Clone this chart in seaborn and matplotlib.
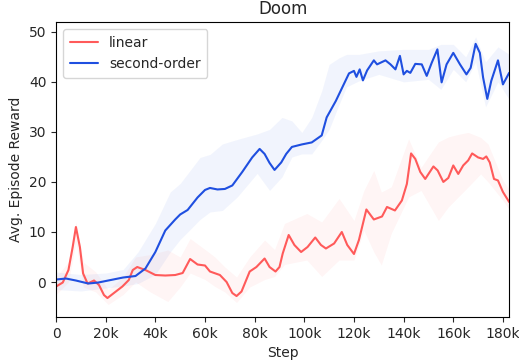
"""Doom: average episode reward vs step, linear vs second-order."""
import matplotlib
matplotlib.use("Agg")
import matplotlib.pyplot as plt
from matplotlib.ticker import FuncFormatter
import pandas as pd
import seaborn as sns

# mean curves, step in thousands
LIN_STEP = [0, 2.7, 5, 6.7, 8, 9.6, 10.9, 12.7, 15.3, 17.3, 19.3, 20.7, 23.3, 26.7,
            29.3, 30.9, 32.7, 36, 40, 44, 48, 51, 54, 57, 60, 62, 66, 68.7, 71,
            72.7, 74.7, 78, 80.7, 84, 86, 88.4, 90, 91.3, 93.7, 96, 98.7, 101.3,
            104.4, 106.7, 108.7, 112, 115.1, 117.3, 120, 122, 125, 128, 131.3,
            133.3, 136.5, 139.3, 141.3, 143, 144.7, 146.7, 148.7, 152, 153.7, 156,
            158, 160, 162, 164, 166, 167.6, 170, 172, 173.3, 174.7, 176.4, 178,
            180, 182.5]
LIN_MEAN = [-0.9, -0.1, 2.4, 7.0, 11.0, 7.0, 1.7, -0.3, 0.3, -0.6, -2.6, -3.2, -2.2,
            -0.9, 0.4, 2.4, 3.0, 2.4, 1.4, 1.3, 1.4, 1.8, 4.6, 3.5, 3.3, 2.1, 1.4,
            0.0, -2.2, -2.8, -1.9, 2.1, 3.0, 4.7, 3.0, 2.1, 3.0, 5.7, 9.4, 7.4, 6.0,
            7.0, 8.9, 7.4, 6.7, 7.7, 10.0, 7.4, 5.6, 8.4, 14.5, 12.5, 13.1, 15.0,
            14.3, 16.3, 19.6, 25.7, 24.6, 22.0, 20.6, 23.1, 22.3, 20.0, 20.8, 23.3,
            21.6, 23.3, 24.3, 25.7, 24.9, 24.6, 25.1, 23.9, 20.6, 20.3, 18.0, 16.0]

SO_STEP = [0, 4, 8, 13, 17, 20, 24, 27, 32, 36, 40, 44, 48, 50, 53, 57, 60, 62, 65,
           68, 71, 75, 79, 82, 84, 86, 88, 90.7, 92.7, 95, 99, 103, 107, 109, 112.7,
           115.3, 118, 120, 121, 122.3, 123.6, 125.3, 128, 129.3, 132.7, 134.7,
           136.7, 138.5, 140, 141.3, 142.7, 144.7, 147.3, 149.3, 151.3, 153.6,
           155.3, 157.3, 160, 162.7, 165.3, 167, 169, 170.7, 172, 173.7, 175.3,
           178, 180, 182.5]
SO_MEAN = [0.5, 0.7, 0.3, -0.3, -0.1, 0.2, 0.6, 0.9, 1.2, 2.7, 6.0, 10.3, 12.5, 13.5,
           14.4, 16.9, 18.4, 18.8, 18.5, 18.6, 19.3, 22.0, 24.9, 26.6, 25.6, 23.8,
           22.4, 23.9, 25.6, 27.0, 27.5, 27.9, 29.3, 32.9, 36.2, 38.9, 41.7, 42.2,
           41.0, 42.5, 40.3, 42.3, 44.3, 43.5, 44.3, 43.5, 42.5, 45.2, 41.5, 42.2,
           41.8, 43.6, 43.5, 41.2, 43.8, 46.5, 39.9, 43.5, 45.8, 43.5, 41.5, 42.8,
           47.6, 45.8, 40.9, 36.6, 40.2, 44.3, 39.5, 41.8]

# shaded spread around each curve
LIN_BAND_STEP = [0, 5, 8, 11, 16, 21, 27, 32, 38, 45, 50, 54, 60, 64, 68, 72.7, 78,
                 84, 88, 92, 101, 107, 114, 120, 124, 128, 131, 135, 142, 147, 154,
                 158, 162, 166, 171, 174, 180, 182.5]
LIN_LO = [-2.5, 0.0, 8.0, -1.0, -2.0, -4.5, -2.5, 0.0, -2.0, -3.9, -1.0, 1.8, 0.5,
          -0.9, -2.0, -4.1, -1.0, 0.5, 1.1, 3.5, 4.4, 1.1, 4.4, 4.4, 10.3, 6.0, 3.4,
          9.7, 17.0, 18.3, 12.3, 15.0, 17.0, 19.0, 21.6, 20.0, 16.3, 14.5]
LIN_HI = [1.0, 4.0, 12.0, 4.0, 2.0, -1.5, 1.0, 5.0, 5.5, 6.4, 5.0, 8.7, 6.5, 5.0,
          3.0, 1.0, 5.0, 8.4, 6.5, 11.7, 13.7, 12.0, 16.7, 12.3, 18.3, 22.3, 18.0,
          19.0, 28.6, 22.9, 28.0, 29.0, 29.5, 29.9, 28.9, 27.6, 20.3, 18.5]

SO_BAND_STEP = [0, 10, 20, 27, 33, 40, 46, 50, 58, 62, 67, 73, 81, 86, 91, 95, 99,
                103, 107, 110, 114, 117, 122, 130, 140, 150, 155, 160, 165, 169, 173,
                178, 182.5]
SO_LO = [-1.5, -1.8, -1.2, -0.8, -0.3, 1.5, 6.0, 8.5, 12.5, 14.0, 14.3, 17.0, 21.7,
         18.3, 21.0, 25.0, 25.6, 25.6, 28.3, 30.5, 35.5, 39.0, 40.2, 41.5, 40.0,
         40.5, 38.5, 42.5, 40.0, 44.0, 35.0, 40.0, 36.5]
SO_HI = [2.0, 1.5, 1.8, 2.5, 6.0, 11.7, 18.0, 19.7, 24.9, 25.5, 27.6, 28.5, 29.6,
         30.5, 32.9, 32.2, 29.9, 32.9, 38.2, 43.5, 44.8, 45.5, 45.5, 46.2, 46.5,
         46.5, 47.5, 47.5, 45.0, 49.0, 44.0, 47.0, 45.5]

RED = "#ff5a5a"
BLUE = "#1f4fe0"


def main() -> None:
    sns.set_style("ticks")
    plt.rcParams["font.family"] = ["DejaVu Sans"]

    df = pd.concat([
        pd.DataFrame({"step": [s * 1000 for s in LIN_STEP], "reward": LIN_MEAN,
                      "method": "linear"}),
        pd.DataFrame({"step": [s * 1000 for s in SO_STEP], "reward": SO_MEAN,
                      "method": "second-order"}),
    ])

    fig, ax = plt.subplots(figsize=(5.19, 3.64), dpi=100)
    fig.subplots_adjust(left=0.108, right=0.981, top=0.940, bottom=0.129)

    ax.fill_between([s * 1000 for s in LIN_BAND_STEP], LIN_LO, LIN_HI,
                    color=RED, alpha=0.06, lw=0)
    ax.fill_between([s * 1000 for s in SO_BAND_STEP], SO_LO, SO_HI,
                    color=BLUE, alpha=0.06, lw=0)
    sns.lineplot(data=df, x="step", y="reward", hue="method",
                 palette={"linear": RED, "second-order": BLUE},
                 lw=1.5, estimator=None, ax=ax)

    ax.set_xlim(0, 182500)
    ax.set_ylim(-7, 52)
    ax.set_xticks(range(0, 180001, 20000))
    ax.xaxis.set_major_formatter(
        FuncFormatter(lambda v, _: "0" if v == 0 else f"{int(v / 1000)}k"))
    ax.set_yticks([0, 10, 20, 30, 40, 50])
    ax.set_xlabel("Step")
    ax.set_ylabel("Avg. Episode Reward")
    ax.set_title("Doom")
    ax.legend(loc="upper left", title=None, frameon=True, borderpad=0.5)
    for sp in ax.spines.values():
        sp.set_color("black")

    fig.savefig("out.png", dpi=100)
    plt.close(fig)


if __name__ == "__main__":
    main()
